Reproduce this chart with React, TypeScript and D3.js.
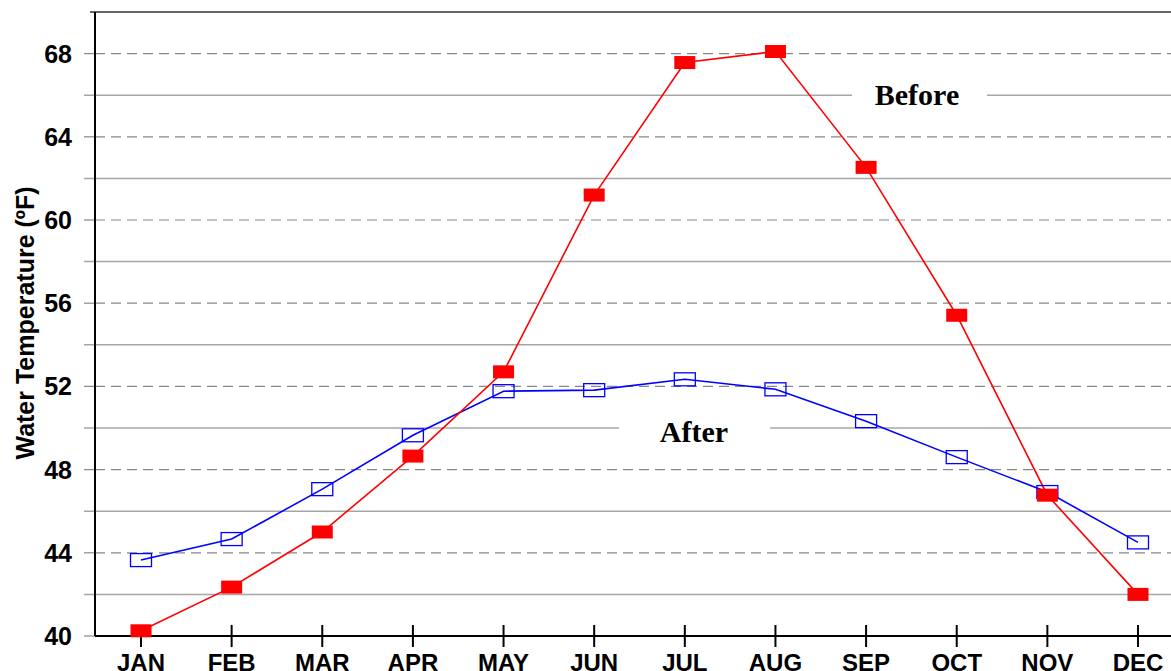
import React from "react";
import * as d3 from "d3";

const months = ["JAN","FEB","MAR","APR","MAY","JUN","JUL","AUG","SEP","OCT","NOV","DEC"];
const beforeValues = [40.25, 42.35, 45.0, 48.65, 52.7, 61.2, 67.57, 68.1, 62.53, 55.42, 46.77, 42.0];
const afterValues = [43.65, 44.66, 47.06, 49.65, 51.77, 51.82, 52.34, 51.86, 50.33, 48.6, 46.92, 44.5];
const dashedTicks = [44, 48, 52, 56, 60, 64, 68];
const solidTicks = [42, 46, 50, 54, 58, 62, 66];
const labelTicks = [40, 44, 48, 52, 56, 60, 64, 68];

export default function App() {
  const W = 1171, H = 671;
  const left = 95, right = 1171, top = 12, bottom = 636;
  const x = d3.scalePoint<string>().domain(months).range([141, 1138]);
  const y = d3.scaleLinear().domain([40, 70]).range([bottom, top]);
  const line = d3.line<number>().x((_, i) => x(months[i])!).y((d) => y(d));
  const font = "Arial, 'Liberation Sans', sans-serif";
  const serif = "'Liberation Serif', 'Times New Roman', serif";
  const mw = 21, mh = 13;
  return (
    <svg width={W} height={H} style={{ position: "absolute", left: 0, top: 0, background: "#fff" }}>
      {solidTicks.map((t) => (
        <line key={"s" + t} x1={84} x2={right} y1={y(t)} y2={y(t)} stroke="#a6a6a6" strokeWidth={1.5} />
      ))}
      {dashedTicks.map((t) => (
        <g key={"d" + t}>
          <line x1={84} x2={left} y1={y(t)} y2={y(t)} stroke="#888" strokeWidth={1.2} />
          <line x1={left} x2={right} y1={y(t)} y2={y(t)} stroke="#888" strokeWidth={1.2} strokeDasharray="10,6" />
        </g>
      ))}
      <line x1={84} x2={left} y1={y(40)} y2={y(40)} stroke="#888" strokeWidth={1.2} />
      <line x1={90} x2={right} y1={top} y2={top} stroke="#666" strokeWidth={2} />
      {/* label knockouts */}
      <rect x={852} y={y(66) - 4} width={135} height={8} fill="#fff" />
      <rect x={619} y={y(50) - 4} width={151} height={8} fill="#fff" />
      <text x={917} y={y(66) + 10} textAnchor="middle" fontFamily={serif} fontWeight="bold" fontSize={30}>Before</text>
      <text x={694} y={y(50) + 14} textAnchor="middle" fontFamily={serif} fontWeight="bold" fontSize={30}>After</text>
      {/* axes */}
      <line x1={left} x2={left} y1={top} y2={bottom} stroke="#000" strokeWidth={2} />
      <line x1={left} x2={right} y1={bottom} y2={bottom} stroke="#000" strokeWidth={2} />
      {months.map((m) => (
        <g key={m}>
          <line x1={x(m)} x2={x(m)} y1={bottom - 11} y2={bottom + 11} stroke="#000" strokeWidth={2} />
          <text x={x(m)} y={bottom + 35} textAnchor="middle" fontFamily={font} fontWeight="bold" fontSize={24}>{m}</text>
        </g>
      ))}
      {labelTicks.map((t) => (
        <text key={"l" + t} x={72} y={y(t) + 9} textAnchor="end" fontFamily={font} fontWeight="bold" fontSize={25}>{t}</text>
      ))}
      <text transform={`translate(34,${323}) rotate(-90)`} textAnchor="middle" fontFamily={font} fontWeight="bold" fontSize={25}>Water Temperature (ºF)</text>
      {/* series */}
      <path d={line(afterValues)!} fill="none" stroke="#0000ff" strokeWidth={1.6} />
      <path d={line(beforeValues)!} fill="none" stroke="#ff0000" strokeWidth={1.6} />
      {afterValues.map((v, i) => (
        <rect key={"a" + i} x={x(months[i])! - mw / 2} y={y(v) - mh / 2} width={mw} height={mh} fill="none" stroke="#0000ff" strokeWidth={1.3} />
      ))}
      {beforeValues.map((v, i) => (
        <rect key={"b" + i} x={x(months[i])! - mw / 2} y={y(v) - mh / 2} width={mw} height={mh} fill="#ff0000" />
      ))}
    </svg>
  );
}
